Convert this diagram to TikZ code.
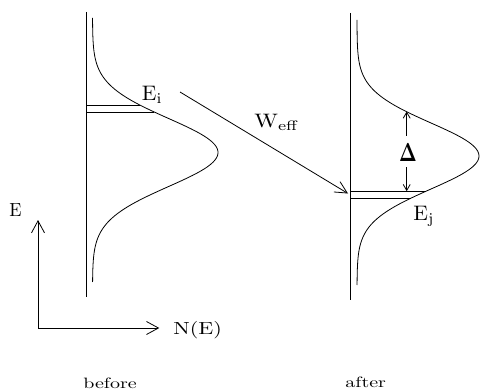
\documentclass[tikz,border=0pt]{standalone}
\usepackage{graphicx}
\usetikzlibrary{arrows.meta}
\begin{document}
\begin{tikzpicture}[x=1pt,y=-1pt,line width=0.8pt,
  lbl/.style={inner sep=0pt,anchor=base west},
  axisarrow/.style={-{Straight Barb[length=12pt,width=13pt]}},
  warrow/.style={-{Straight Barb[length=12pt,width=12pt]}},
  darrow/.style={-{Straight Barb[length=6pt,width=7pt]}},
  level/.style={line width=0.7pt}]
\useasboundingbox (0,0) rectangle (481,390);
% left (before) panel
\coordinate (Ltop) at (86.7,12);
\coordinate (Lbot) at (86.7,297);
\draw (Ltop) -- (Lbot);
\draw plot[smooth,domain=18:282,samples=120] ({92.5+125.5*exp(-0.5*((\x-152.5)/34)^2)},\x);
\coordinate (La1) at (86.7,105);
\coordinate (La2) at ({92.5+125.5*exp(-0.5*((105-152.5)/34)^2)},105);
\coordinate (Lb1) at (86.7,112);
\coordinate (Lb2) at ({92.5+125.5*exp(-0.5*((112-152.5)/34)^2)},112);
\draw[level] (La1) -- (La2);
\draw[level] (Lb1) -- (Lb2);
\node[lbl] (Ei) at (141.5,100.7) {\scalebox{2.15}[2.1]{$\mathrm{E}_{\mathrm{i}}$}};
% right (after) panel
\coordinate (Rtop) at (350,13);
\coordinate (Rbot) at (350,300);
\draw (Rtop) -- (Rbot);
\draw plot[smooth,domain=20:285,samples=120] ({357+122*exp(-0.5*((\x-156)/33)^2)},\x);
\coordinate (Ra1) at (350,191.7);
\coordinate (Ra2) at ({357+122*exp(-0.5*((191.7-156)/33)^2)},191.7);
\coordinate (Rb1) at (350,198.3);
\coordinate (Rb2) at ({357+122*exp(-0.5*((198.3-156)/33)^2)},198.3);
\draw[level] (Ra1) -- (Ra2);
\draw[level] (Rb1) -- (Rb2);
\node[lbl] (Ej) at (413,220) {\scalebox{2.15}[2.1]{$\mathrm{E}_{\mathrm{j}}$}};
% Delta
\node[inner sep=0pt] (D) at (408,152.5) {\scalebox{1.85}[2.6]{$\mathbf{\Delta}$}};
\coordinate (Dtop) at (406.7,111.5);
\coordinate (Dbot) at (406.7,191.2);
\draw[darrow] (406.7,136) -- (Dtop);
\draw[darrow] (406.7,167) -- (Dbot);
% transition arrow
\coordinate (Wa) at (180,92);
\coordinate (Wb) at (348,193.5);
\draw[warrow] (Wa) -- (Wb);
\node[lbl] (W) at (254,128) {\scalebox{2.3}[1.95]{$\mathrm{W}_{\mathrm{eff}}$}};
% axes
\coordinate (O) at (38,328);
\coordinate (Etip) at (38,220);
\coordinate (Ntip) at (159.3,328);
\draw[axisarrow] (O) -- (Etip);
\draw[axisarrow] (O) -- (Ntip);
\node[lbl] (E) at (9,216) {\scalebox{1.8}[1.9]{E}};
\node[lbl] (NE) at (173,334) {\scalebox{2.2}[1.75]{N(E)}};
% captions
\node[lbl] (before) at (83,388) {\scalebox{2.0}[1.5]{before}};
\node[lbl] (after) at (345,387) {\scalebox{2.0}[1.5]{after}};
\end{tikzpicture}
\end{document}
